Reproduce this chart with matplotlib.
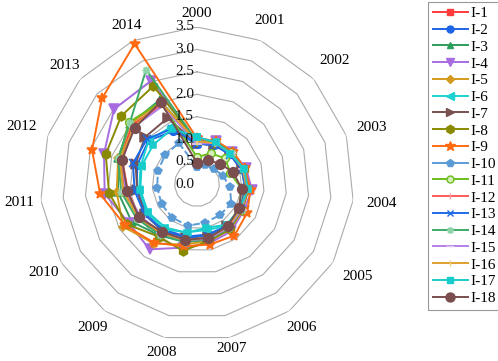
import matplotlib.pyplot as plt
import matplotlib.transforms as mtransforms
from matplotlib.lines import Line2D
import numpy as np

plt.rcParams['font.family'] = ['Liberation Serif', 'DejaVu Serif']

years = ['2000', '2001', '2002', '2003', '2004', '2005', '2006', '2007',
         '2008', '2009', '2010', '2011', '2012', '2013', '2014']
r_ticks = [0.0, 0.5, 1.0, 1.5, 2.0, 2.5, 3.0, 3.5]

# valores (2000 ... 2014)
I1 = [0.95, 1.05, 1.05, 1.10, 1.15, 1.15, 1.22, 1.25, 1.30, 1.40, 1.50, 1.60, 1.80, 1.95, 1.95]
I2 = [0.90, 0.95, 1.00, 1.05, 1.08, 1.10, 1.15, 1.15, 1.20, 1.25, 1.30, 1.35, 1.40, 1.45, 1.29]
I3 = [0.95, 1.02, 1.05, 1.10, 1.12, 1.15, 1.22, 1.28, 1.32, 1.42, 1.68, 1.77, 1.85, 2.00, 2.05]
I4 = [0.95, 1.05, 1.05, 1.15, 1.23, 1.20, 1.30, 1.35, 1.45, 1.80, 1.75, 2.07, 2.18, 2.49, 2.52]
I5 = [0.95, 1.02, 1.05, 1.10, 1.15, 1.18, 1.25, 1.30, 1.38, 1.64, 1.90, 1.80, 1.85, 2.00, 2.00]
I6 = [0.95, 1.00, 1.00, 1.05, 1.10, 1.10, 1.15, 1.05, 1.10, 1.25, 1.28, 1.30, 1.32, 1.45, 1.40]
I7 = [0.90, 0.95, 1.00, 1.05, 1.10, 1.10, 1.15, 1.20, 1.22, 1.30, 1.35, 1.34, 1.44, 1.56, 1.61]
I8 = [0.95, 1.00, 1.05, 1.10, 1.15, 1.15, 1.25, 1.30, 1.52, 1.45, 1.80, 1.97, 2.14, 2.27, 2.39]
I9 = [1.02, 1.05, 1.08, 1.12, 1.20, 1.29, 1.42, 1.38, 1.42, 1.62, 1.85, 2.17, 2.46, 2.85, 3.42]
I10 = [0.38, 0.46, 0.50, 0.61, 0.74, 0.88, 0.86, 0.88, 0.95, 0.93, 0.91, 0.89, 0.92, 0.96, 1.00]
I11 = [0.60, 0.75, 0.85, 0.78, 1.00, 1.08, 1.18, 1.22, 1.28, 1.35, 1.50, 1.65, 1.82, 2.05, 2.00]
I12 = [0.95, 1.02, 1.02, 1.10, 1.12, 1.15, 1.20, 1.25, 1.30, 1.38, 1.48, 1.55, 1.75, 1.90, 1.95]
I13 = [0.90, 0.95, 0.98, 1.05, 1.10, 1.12, 1.15, 1.18, 1.22, 1.28, 1.35, 1.40, 1.50, 1.50, 1.35]
I14 = [0.95, 1.02, 1.04, 1.08, 1.12, 1.15, 1.22, 1.26, 1.32, 1.40, 1.55, 1.70, 1.85, 2.02, 2.79]
I15 = [0.90, 1.00, 1.02, 1.08, 1.12, 1.15, 1.20, 1.25, 1.28, 1.35, 1.45, 1.60, 1.75, 1.90, 1.90]
I16 = [0.95, 1.00, 1.02, 1.08, 1.12, 1.12, 1.18, 1.22, 1.28, 1.35, 1.50, 1.65, 1.80, 1.90, 2.00]
I17 = [1.05, 1.02, 1.00, 1.11, 1.14, 1.10, 1.12, 1.00, 1.11, 1.20, 1.26, 1.27, 1.30, 1.31, 1.35]
I18 = [0.47, 0.58, 0.68, 0.85, 1.00, 1.08, 1.16, 1.23, 1.27, 1.32, 1.49, 1.56, 1.76, 1.87, 2.00]

series = [I1, I2, I3, I4, I5, I6, I7, I8, I9, I10, I11, I12, I13, I14, I15, I16, I17, I18]
labels = ['I-%d' % (i + 1) for i in range(18)]

colors = ['#FF3B3B', '#1E64E6', '#2E9E5E', '#A66CE0', '#D49A1E', '#1ED2D2',
          '#7A5050', '#8A8A00', '#FF6A13', '#5B9BD5', '#6CBE1E', '#FF5A5A',
          '#1E6AE6', '#3CAA6A', '#B37FE6', '#E0A030', '#19CCCC', '#7A4E4E']
markers = ['s', 'o', '^', 'v', 'D', '<', '>', 'h', '*', 'p', 'o', '|',
           'x', (8, 2, 0), '_', '|', 's', 'o']
msizes = [5, 5.5, 5.5, 6.5, 4.5, 6, 6.5, 6.5, 7.5, 6, 5.5, 5.5, 5.5, 5.5, 6.5, 5.5, 5, 7]
edge = ['#FF3B3B', '#1E64E6', '#2E9E5E', '#A66CE0', '#D49A1E', '#1ED2D2',
        '#7A5050', '#8A8A00', '#FF6A13', '#5B9BD5', '#6CBE1E', '#FFA0A0',
        '#1E6AE6', '#8FD3A8', '#DCC4F5', '#F0D080', '#19CCCC', '#7A4E4E']
faces = list(edge)
faces[10] = '#D6EFB8'

# radio de cada etiqueta de año
lab_r = [3.81, 3.99, 4.12, 4.10, 4.14, 4.14, 3.96, 3.76,
         3.83, 3.96, 3.94, 3.98, 4.12, 3.96, 3.88]

n = len(years)
angles = np.linspace(0, 2 * np.pi, n, endpoint=False)
ang_closed = np.append(angles, angles[0])

fig = plt.figure(figsize=(4.98, 3.61), dpi=100)
ax = fig.add_axes([40 / 498, 20 / 361, 314 / 498, 314 / 361], projection='polar')
ax.set_theta_zero_location('N')
ax.set_theta_direction(-1)
ax.set_ylim(0, 3.5)
ax.grid(False)
ax.spines['polar'].set_visible(False)
ax.set_xticks([])
ax.set_yticks([])
ax.patch.set_visible(False)

# rejilla poligonal
for r in r_ticks[1:]:
    ax.plot(ang_closed, [r] * (n + 1), color='#ABABAB', lw=0.8, zorder=1)

# etiquetas del eje radial
off = mtransforms.offset_copy(ax.transData, fig=fig, x=-3, y=0, units='dots')
for r in r_ticks:
    ax.text(0, r, '%.1f' % r, transform=off, ha='right', va='center',
            fontsize=11, color='#111111', zorder=5)

# etiquetas de categorias
for a, y, rr in zip(angles, years, lab_r):
    ax.text(a, rr, y, ha='center', va='center', fontsize=11, clip_on=False)

handles = []
for i, vals in enumerate(series):
    v = np.append(vals, vals[0])
    ls = (0, (3.5, 1.5)) if i == 9 else '-'
    ax.plot(ang_closed, v, color=colors[i], lw=1.4, ls=ls, marker=markers[i],
            ms=msizes[i], mec=edge[i], mfc=faces[i], mew=1.1, zorder=2 + i * 0.01,
            clip_on=False)
    handles.append(Line2D([], [], color=colors[i], lw=1.4, marker=markers[i],
                          ms=msizes[i] - 0.5, mec=edge[i], mfc=faces[i], mew=1.0))

leg = fig.legend(handles, labels, loc='upper left',
                 bbox_to_anchor=(428 / 498, 1 - 2 / 361), fontsize=11,
                 frameon=True, fancybox=False, edgecolor='#7F7F7F',
                 handlelength=2.3, handletextpad=0.15, labelspacing=0.2,
                 borderpad=0.3, borderaxespad=0)
leg.get_frame().set_linewidth(0.8)

fig.savefig('out.png', dpi=100)
